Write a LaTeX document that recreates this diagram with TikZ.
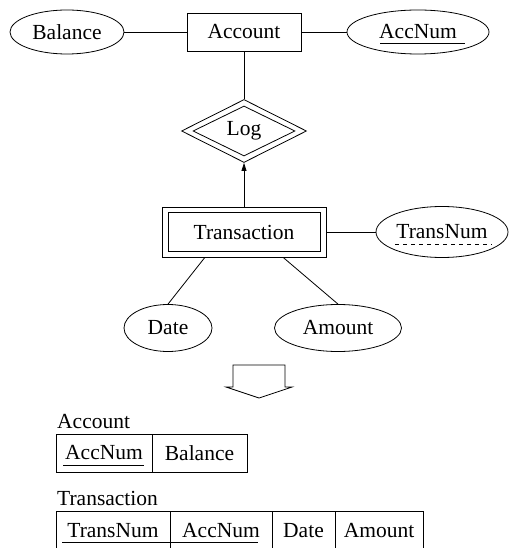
\documentclass[tikz,border=0pt]{standalone}
\usepackage{fontspec}
\setmainfont{Liberation Serif}
\usetikzlibrary{shapes.geometric,arrows.meta,calc}

\begin{document}
\begin{tikzpicture}[x=1pt,y=-1pt,
  every node/.style={font=\fontsize{21.5}{26}\selectfont, inner sep=0pt},
  line/.style={line width=0.8pt},
  attr/.style={draw, ellipse, line width=0.8pt},
  ent/.style={draw, rectangle, line width=0.8pt},
  rel/.style={draw, diamond, shape aspect=2, line width=0.8pt},
  cell/.style={draw, rectangle, line width=0.8pt},
  keyline/.style={line width=0.8pt},
  partkey/.style={line width=0.8pt, dash pattern=on 4pt off 4pt},
]
\useasboundingbox (0,0) rectangle (510,548);
\clip (0,0) rectangle (510,548);

% ---- E-R diagram ----
\node[attr, minimum width=114pt, minimum height=44pt] (balance) at (67,32) {Balance};
\node[ent,  minimum width=114pt, minimum height=38pt] (account) at (244,32) {Account};
\node[attr, minimum width=142pt, minimum height=44pt] (accnum)  at (418,32) {AccNum};

\node[rel, minimum width=125pt, minimum height=63pt] (log)   at (244,131) {};
\node[rel, minimum width=102pt, minimum height=50pt] (login) at (244,131) {Log};

\node[ent, minimum width=164pt, minimum height=50pt] (trans)   at (244,232) {};
\node[ent, minimum width=152pt, minimum height=39pt] (transin) at (244,232) {Transaction};
\node[attr, minimum width=132pt, minimum height=51pt] (transnum) at (442,232) {TransNum};

\node[attr, minimum width=88pt,  minimum height=47pt] (date)   at (168,328) {Date};
\node[attr, minimum width=127pt, minimum height=47pt] (amount) at (338,328) {Amount};

\draw[line] (balance) -- (account);
\draw[line] (account) -- (accnum);
\draw[line] (account) -- (log);
\draw[line, -{Triangle[length=8pt,width=5pt]}] (trans) -- (log);
\draw[line] (trans) -- (transnum);
\draw[line] (trans.213) -- (date.north);
\draw[line] (trans.327) -- (amount.north);

% key underlines
\draw[keyline] ($(accnum.center)+(-38,11)$) -- ($(accnum.center)+(47,11)$);
\draw[partkey] ($(transnum.center)+(-47,12.5)$) -- ($(transnum.center)+(50,12.5)$);

% ---- block arrow ----
\draw[line] (233,365) -- (233,387) -- (226,387) -- (259,398) -- (292,387)
  -- (285,387) -- (285,365) -- cycle;

% ---- relational schema ----
\node[anchor=base west] (lblacc) at (57,428) {Account};
\node[cell, minimum width=96pt, minimum height=38pt] (a1) at (104,453) {AccNum};
\node[cell, minimum width=95pt, minimum height=38pt] (a2) at (199.5,453) {Balance};
\draw[keyline] ($(a1.center)+(-41,12)$) -- ($(a1.center)+(40,12)$);

\node[anchor=base west] (lbltr) at (57,505) {Transaction};
\node[cell, minimum width=114pt, minimum height=40pt] (t1) at (113,531) {TransNum};
\node[cell, minimum width=102pt, minimum height=40pt] (t2) at (221,531) {AccNum};
\node[cell, minimum width=63pt,  minimum height=40pt] (t3) at (303.5,531) {Date};
\node[cell, minimum width=88pt,  minimum height=40pt] (t4) at (379,531) {Amount};
\draw[keyline] ($(t1.center)+(-51,11)$) -- ($(t2.center)+(37,11)$);
\end{tikzpicture}
\end{document}
